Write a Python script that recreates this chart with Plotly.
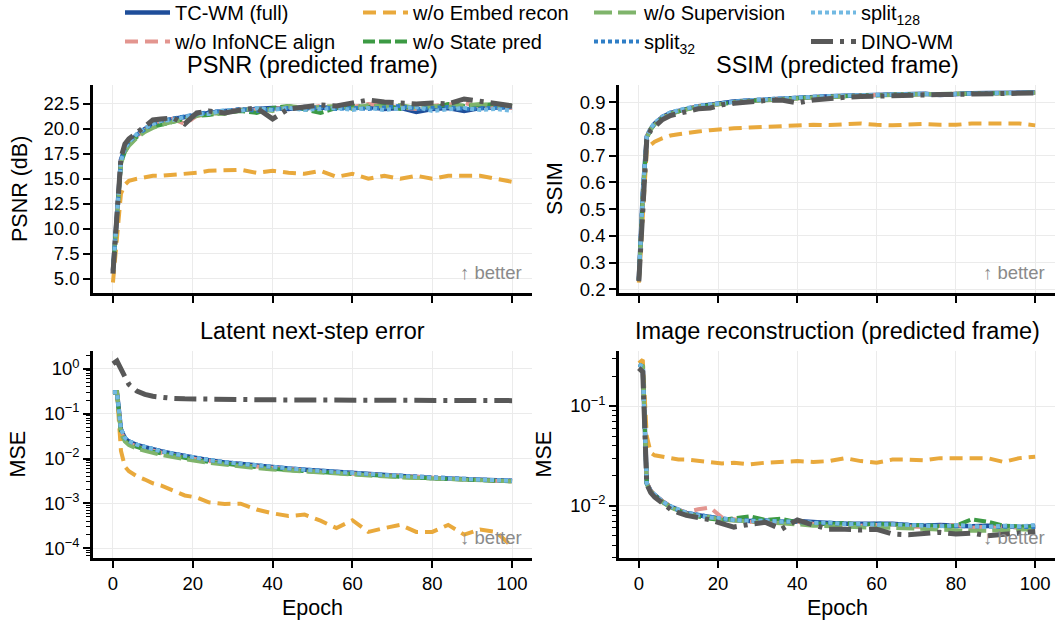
import plotly.graph_objects as go

epochs = [0, 1, 2, 3, 4, 6, 8, 10, 12, 15, 18, 21, 24, 28, 32, 36, 40, 44, 48, 52, 56, 60, 64, 68, 72, 76, 80, 84, 88, 92, 96, 100]

# PSNR (predicted frame), dB
psnr_tcwm = [5.8, 11.6, 16.9, 18.0, 18.6, 19.4, 20.0, 20.4, 20.7, 21.0, 21.2, 21.5, 21.6, 21.8, 21.9, 22.0, 22.1, 22.0, 22.2, 22.1, 22.2, 22.1, 22.2, 22.0, 22.1, 21.7, 22.0, 22.1, 21.8, 22.1, 22.2, 22.2]
psnr_infonce = [5.7, 11.3, 16.7, 17.9, 18.6, 19.3, 19.9, 20.3, 20.6, 21.0, 20.5, 21.3, 21.5, 21.7, 22.0, 21.9, 22.0, 22.2, 22.0, 22.3, 22.1, 22.2, 22.5, 22.3, 22.2, 22.0, 22.3, 22.4, 22.6, 22.2, 22.1, 22.1]
psnr_embed = [4.6, 9.6, 13.5, 14.4, 14.8, 15.0, 15.2, 15.3, 15.3, 15.4, 15.45, 15.6, 15.8, 15.9, 15.9, 15.6, 15.8, 15.6, 15.5, 15.8, 15.2, 15.5, 15.0, 15.3, 15.0, 15.3, 15.0, 15.3, 15.3, 15.3, 15.0, 14.7]
psnr_state = [5.8, 11.4, 16.6, 17.7, 18.4, 19.2, 19.8, 20.2, 20.4, 20.6, 20.9, 21.3, 21.4, 21.6, 21.8, 21.6, 22.1, 22.3, 22.0, 21.6, 22.1, 22.3, 22.2, 22.4, 22.0, 22.3, 22.1, 22.5, 22.3, 22.4, 22.5, 22.3]
psnr_superv = [5.7, 11.2, 16.5, 17.7, 18.3, 19.1, 19.7, 20.1, 20.4, 20.7, 21.0, 21.2, 21.6, 21.5, 21.9, 22.0, 21.8, 22.3, 22.1, 22.2, 22.3, 22.0, 22.4, 22.2, 22.4, 22.1, 22.3, 22.2, 22.4, 22.5, 22.3, 22.4]
psnr_split32 = [5.8, 11.5, 16.8, 18.0, 18.7, 19.4, 20.0, 20.5, 20.8, 21.0, 21.3, 21.4, 21.7, 21.8, 22.0, 21.8, 22.0, 22.1, 22.0, 22.2, 22.0, 22.1, 22.0, 22.1, 22.3, 22.0, 22.1, 22.2, 22.0, 22.0, 22.1, 22.2]
psnr_split128 = [5.7, 11.4, 16.8, 18.1, 18.7, 19.5, 20.1, 20.5, 20.8, 20.9, 21.2, 21.5, 21.5, 21.9, 21.8, 22.1, 21.9, 22.1, 21.9, 22.0, 22.1, 21.9, 22.1, 21.9, 22.0, 22.2, 21.8, 22.0, 22.1, 21.9, 22.0, 21.8]
psnr_dino = [5.5, 11.0, 17.1, 18.5, 19.0, 19.6, 20.3, 20.9, 21.0, 21.1, 20.5, 21.6, 21.8, 21.6, 21.9, 22.1, 21.0, 22.0, 22.2, 22.4, 22.3, 22.6, 22.9, 22.7, 22.6, 22.5, 22.6, 22.5, 23.0, 22.8, 22.6, 22.3]

# SSIM (predicted frame)
ssim_tcwm = [0.235, 0.56, 0.77, 0.80, 0.82, 0.845, 0.86, 0.868, 0.875, 0.885, 0.890, 0.897, 0.902, 0.906, 0.910, 0.913, 0.917, 0.919, 0.922, 0.924, 0.926, 0.927, 0.929, 0.930, 0.931, 0.927, 0.932, 0.933, 0.934, 0.934, 0.935, 0.936]
ssim_infonce = [0.235, 0.55, 0.77, 0.80, 0.818, 0.843, 0.858, 0.867, 0.874, 0.884, 0.889, 0.896, 0.901, 0.905, 0.909, 0.912, 0.915, 0.918, 0.921, 0.923, 0.925, 0.927, 0.928, 0.929, 0.930, 0.930, 0.931, 0.932, 0.933, 0.934, 0.934, 0.935]
ssim_embed = [0.225, 0.50, 0.72, 0.74, 0.752, 0.765, 0.775, 0.780, 0.785, 0.790, 0.795, 0.800, 0.802, 0.805, 0.808, 0.810, 0.812, 0.815, 0.814, 0.818, 0.820, 0.815, 0.813, 0.816, 0.818, 0.815, 0.815, 0.820, 0.821, 0.822, 0.820, 0.813]
ssim_state = [0.235, 0.55, 0.765, 0.80, 0.817, 0.842, 0.857, 0.866, 0.873, 0.883, 0.888, 0.895, 0.900, 0.905, 0.908, 0.912, 0.915, 0.918, 0.920, 0.923, 0.925, 0.926, 0.928, 0.929, 0.930, 0.930, 0.931, 0.932, 0.933, 0.933, 0.934, 0.935]
ssim_superv = [0.235, 0.55, 0.765, 0.798, 0.816, 0.841, 0.856, 0.865, 0.872, 0.882, 0.888, 0.894, 0.900, 0.904, 0.908, 0.911, 0.914, 0.917, 0.920, 0.922, 0.924, 0.926, 0.927, 0.929, 0.930, 0.930, 0.931, 0.932, 0.932, 0.933, 0.934, 0.935]
ssim_split32 = [0.235, 0.56, 0.772, 0.802, 0.821, 0.846, 0.861, 0.869, 0.876, 0.886, 0.891, 0.898, 0.903, 0.907, 0.911, 0.914, 0.918, 0.920, 0.922, 0.924, 0.926, 0.928, 0.929, 0.930, 0.931, 0.929, 0.932, 0.933, 0.933, 0.934, 0.935, 0.936]
ssim_split128 = [0.235, 0.56, 0.772, 0.803, 0.822, 0.846, 0.862, 0.870, 0.877, 0.886, 0.891, 0.898, 0.903, 0.907, 0.911, 0.914, 0.918, 0.920, 0.922, 0.925, 0.926, 0.928, 0.929, 0.930, 0.931, 0.930, 0.932, 0.932, 0.933, 0.934, 0.934, 0.935]
ssim_dino = [0.23, 0.53, 0.76, 0.795, 0.81, 0.835, 0.85, 0.858, 0.866, 0.875, 0.878, 0.890, 0.896, 0.902, 0.906, 0.908, 0.897, 0.908, 0.914, 0.918, 0.921, 0.923, 0.926, 0.927, 0.927, 0.928, 0.929, 0.930, 0.931, 0.931, 0.932, 0.934]

# Latent next-step error (MSE)
lat_tcwm = [0.30, 0.30, 0.045, 0.028, 0.024, 0.020, 0.018, 0.0158, 0.0145, 0.0128, 0.0113, 0.0102, 0.0092, 0.0082, 0.0075, 0.0069, 0.0064, 0.0060, 0.0056, 0.0053, 0.0050, 0.0047, 0.0045, 0.0042, 0.0040, 0.0039, 0.0037, 0.0036, 0.0035, 0.0034, 0.0033, 0.0032]
lat_infonce = [0.30, 0.30, 0.040, 0.026, 0.022, 0.0185, 0.0165, 0.0148, 0.0135, 0.0118, 0.0105, 0.0095, 0.0087, 0.0078, 0.0071, 0.0066, 0.0061, 0.0057, 0.0054, 0.0051, 0.0048, 0.0046, 0.0044, 0.0041, 0.0039, 0.0038, 0.0036, 0.0035, 0.0034, 0.0033, 0.0032, 0.0031]
lat_embed = [0.30, 0.30, 0.015, 0.0066, 0.0052, 0.0040, 0.0034, 0.0028, 0.0025, 0.0019, 0.0015, 0.00135, 0.00105, 0.00097, 0.00098, 0.00073, 0.00060, 0.00052, 0.00056, 0.00041, 0.00028, 0.00042, 0.00023, 0.00028, 0.00033, 0.00023, 0.00023, 0.00033, 0.00020, 0.00026, 0.00023, 0.000108]
lat_state = [0.30, 0.30, 0.038, 0.025, 0.021, 0.0178, 0.0158, 0.0142, 0.0130, 0.0114, 0.0101, 0.0092, 0.0084, 0.0076, 0.0069, 0.0064, 0.0059, 0.0055, 0.0052, 0.0049, 0.0047, 0.0045, 0.0043, 0.0041, 0.0039, 0.0037, 0.0036, 0.0035, 0.0034, 0.0033, 0.0032, 0.0031]
lat_superv = [0.30, 0.30, 0.035, 0.024, 0.020, 0.0165, 0.0148, 0.0133, 0.0122, 0.0108, 0.0096, 0.0088, 0.0080, 0.0072, 0.0066, 0.0061, 0.0057, 0.0054, 0.0051, 0.0048, 0.0046, 0.0044, 0.0042, 0.0040, 0.0038, 0.0037, 0.0036, 0.0035, 0.0034, 0.0033, 0.0032, 0.0031]
lat_split32 = [0.30, 0.30, 0.046, 0.029, 0.0245, 0.0205, 0.0183, 0.0160, 0.0147, 0.0129, 0.0114, 0.0103, 0.0093, 0.0083, 0.0076, 0.0070, 0.0065, 0.0060, 0.0057, 0.0053, 0.0050, 0.0048, 0.0045, 0.0043, 0.0041, 0.0039, 0.0037, 0.0036, 0.0035, 0.0034, 0.0033, 0.0032]
lat_split128 = [0.30, 0.30, 0.046, 0.029, 0.0245, 0.0205, 0.0182, 0.0160, 0.0146, 0.0129, 0.0114, 0.0103, 0.0093, 0.0083, 0.0076, 0.0070, 0.0065, 0.0060, 0.0056, 0.0053, 0.0050, 0.0047, 0.0045, 0.0043, 0.0041, 0.0039, 0.0037, 0.0036, 0.0035, 0.0034, 0.0033, 0.0032]
lat_dino = [1.30, 1.50, 1.00, 0.65, 0.45, 0.32, 0.27, 0.245, 0.23, 0.22, 0.215, 0.212, 0.21, 0.208, 0.206, 0.205, 0.204, 0.203, 0.202, 0.202, 0.201, 0.200, 0.200, 0.199, 0.199, 0.199, 0.198, 0.198, 0.198, 0.197, 0.197, 0.196]

# Image reconstruction (predicted frame), MSE
img_tcwm = [0.26, 0.25, 0.0168, 0.0140, 0.0128, 0.0110, 0.0098, 0.0090, 0.0084, 0.0080, 0.0076, 0.0074, 0.0072, 0.0070, 0.0071, 0.0069, 0.0070, 0.0068, 0.0067, 0.0066, 0.0066, 0.0065, 0.0066, 0.0064, 0.0063, 0.0064, 0.0063, 0.0062, 0.0063, 0.0062, 0.0061, 0.0062]
img_infonce = [0.26, 0.25, 0.0170, 0.0142, 0.0129, 0.0111, 0.0099, 0.0090, 0.0086, 0.0092, 0.0096, 0.0076, 0.0073, 0.0069, 0.0068, 0.0068, 0.0069, 0.0066, 0.0064, 0.0065, 0.0063, 0.0064, 0.0065, 0.0062, 0.0061, 0.0063, 0.0064, 0.0060, 0.0062, 0.0063, 0.0060, 0.0061]
img_embed = [0.27, 0.29, 0.050, 0.034, 0.032, 0.031, 0.030, 0.029, 0.029, 0.028, 0.027, 0.0265, 0.027, 0.026, 0.027, 0.0275, 0.028, 0.0275, 0.028, 0.030, 0.028, 0.027, 0.029, 0.029, 0.0285, 0.030, 0.030, 0.030, 0.030, 0.0275, 0.030, 0.031]
img_state = [0.26, 0.25, 0.0166, 0.0139, 0.0127, 0.0109, 0.0097, 0.0089, 0.0083, 0.0078, 0.0074, 0.0072, 0.0075, 0.0078, 0.0072, 0.0074, 0.0068, 0.0066, 0.0065, 0.0067, 0.0064, 0.0066, 0.0064, 0.0063, 0.0064, 0.0062, 0.0063, 0.0073, 0.0069, 0.0063, 0.0062, 0.0061]
img_superv = [0.26, 0.25, 0.0165, 0.0138, 0.0126, 0.0108, 0.0096, 0.0088, 0.0082, 0.0079, 0.0077, 0.0072, 0.0071, 0.0069, 0.0067, 0.0066, 0.0065, 0.0063, 0.0062, 0.0062, 0.0061, 0.0060, 0.0060, 0.0059, 0.0058, 0.0058, 0.0057, 0.0056, 0.0056, 0.0057, 0.0058, 0.0057]
img_split32 = [0.26, 0.25, 0.0168, 0.0140, 0.0128, 0.0110, 0.0098, 0.0090, 0.0085, 0.0081, 0.0077, 0.0074, 0.0072, 0.0071, 0.0070, 0.0070, 0.0069, 0.0067, 0.0067, 0.0066, 0.0065, 0.0066, 0.0065, 0.0064, 0.0063, 0.0063, 0.0062, 0.0062, 0.0062, 0.0061, 0.0062, 0.0061]
img_split128 = [0.26, 0.25, 0.0169, 0.0141, 0.0128, 0.0110, 0.0099, 0.0091, 0.0085, 0.0080, 0.0076, 0.0075, 0.0072, 0.0070, 0.0071, 0.0069, 0.0070, 0.0067, 0.0068, 0.0065, 0.0066, 0.0064, 0.0065, 0.0064, 0.0063, 0.0062, 0.0064, 0.0062, 0.0061, 0.0063, 0.0062, 0.0064]
img_dino = [0.24, 0.22, 0.0165, 0.0135, 0.0122, 0.0105, 0.0092, 0.0085, 0.0080, 0.0076, 0.0072, 0.0066, 0.0061, 0.0065, 0.0068, 0.0058, 0.0072, 0.0064, 0.0058, 0.0058, 0.0057, 0.0058, 0.0052, 0.0051, 0.0053, 0.0054, 0.0052, 0.0053, 0.0050, 0.0052, 0.0054, 0.0055]

series_names = ["TC-WM (full)", "w/o InfoNCE align", "w/o Embed recon", "w/o State pred",
                "w/o Supervision", "split<sub>32</sub>", "split<sub>128</sub>", "DINO-WM"]

psnr = [psnr_tcwm, psnr_infonce, psnr_embed, psnr_state, psnr_superv, psnr_split32, psnr_split128, psnr_dino]
ssim = [ssim_tcwm, ssim_infonce, ssim_embed, ssim_state, ssim_superv, ssim_split32, ssim_split128, ssim_dino]
lat = [lat_tcwm, lat_infonce, lat_embed, lat_state, lat_superv, lat_split32, lat_split128, lat_dino]
img = [img_tcwm, img_infonce, img_embed, img_state, img_superv, img_split32, img_split128, img_dino]

styles = [
    dict(color="#1f4e9a", width=4.5, dash="solid"),
    dict(color="#e3958f", width=4, dash="13px,7px"),
    dict(color="#e9a93c", width=4, dash="13px,7px"),
    dict(color="#3c9a44", width=4, dash="12px,4px"),
    dict(color="#7fb46b", width=4, dash="18px,6px"),
    dict(color="#2f7ec6", width=4, dash="4px,3px"),
    dict(color="#72b9e2", width=4, dash="4px,3px"),
    dict(color="#585858", width=5, dash="22px,7px,4px,7px"),
]
legend_of = ["legend", "legend", "legend2", "legend2", "legend3", "legend3", "legend4", "legend4"]

FONT = "Liberation Sans, Arial, sans-serif"

fig = go.Figure()
panels = [(psnr, "x", "y"), (ssim, "x2", "y2"), (lat, "x3", "y3"), (img, "x4", "y4")]
for p, (data, xa, ya) in enumerate(panels):
    for i, vals in enumerate(data):
        fig.add_trace(go.Scatter(x=epochs, y=vals, mode="lines", name=series_names[i],
                                 line=styles[i], xaxis=xa, yaxis=ya,
                                 legend=legend_of[i], showlegend=(p == 0)))

xl = [93 / 1055, 532 / 1055]
xr = [619 / 1055, 1.0]
yt = [1 - 293 / 623, 1 - 85 / 623]
yb = [1 - 558 / 623, 1 - 351 / 623]

axis_common = dict(showline=True, linecolor="black", linewidth=2.5, ticks="outside", ticklen=7,
                   tickwidth=2, tickcolor="black", showgrid=True, gridcolor="#ebebeb", gridwidth=1,
                   zeroline=False, automargin=False, tickfont=dict(size=18.5, color="black", family=FONT))
xcommon = dict(axis_common, range=[-5, 105], tick0=0, dtick=20)
minor_log = dict(ticks="outside", ticklen=4, tickwidth=1.2, tickcolor="black", dtick="D1", showgrid=False)

lat_tickvals = [1e-4, 1e-3, 1e-2, 1e-1, 1]
lat_ticktext = ["10<sup>\u22124</sup>", "10<sup>\u22123</sup>", "10<sup>\u22122</sup>", "10<sup>\u22121</sup>", "10<sup>0</sup>"]
img_tickvals = [1e-2, 1e-1]
img_ticktext = ["10<sup>\u22122</sup>", "10<sup>\u22121</sup>"]

fig.update_layout(
    width=1055, height=623, margin=dict(l=0, r=0, t=0, b=0, autoexpand=False),
    paper_bgcolor="white", plot_bgcolor="white",
    font=dict(family=FONT, color="black"),
    xaxis=dict(xcommon, domain=xl, anchor="y", showticklabels=False),
    yaxis=dict(axis_common, domain=yt, anchor="x", range=[3.55, 24.4], tick0=0, dtick=2.5, tickformat=".1f"),
    xaxis2=dict(xcommon, domain=xr, anchor="y2", showticklabels=False),
    yaxis2=dict(axis_common, domain=yt, anchor="x2", range=[0.186, 0.964], tick0=0, dtick=0.1, tickformat=".1f"),
    xaxis3=dict(xcommon, domain=xl, anchor="y3"),
    yaxis3=dict(axis_common, domain=yb, anchor="x3", type="log", range=[-4.22, 0.40],
                tickmode="array", tickvals=lat_tickvals, ticktext=lat_ticktext, minor=minor_log),
    xaxis4=dict(xcommon, domain=xr, anchor="y4"),
    yaxis4=dict(axis_common, domain=yb, anchor="x4", type="log", range=[-2.525, -0.448],
                tickmode="array", tickvals=img_tickvals, ticktext=img_ticktext, minor=minor_log),
)

leg_common = dict(orientation="v", y=1 + 7 / 623, yanchor="top", xanchor="left", bgcolor="rgba(0,0,0,0)",
                  font=dict(size=20, family=FONT, color="black"), itemwidth=45, tracegroupgap=0,
                  traceorder="normal")
fig.update_layout(
    legend=dict(leg_common, x=120 / 1055),
    legend2=dict(leg_common, x=358 / 1055),
    legend3=dict(leg_common, x=589 / 1055),
    legend4=dict(leg_common, x=806 / 1055),
)

ann = []
titles = [("PSNR (predicted frame)", "x domain", "y domain"),
          ("SSIM (predicted frame)", "x2 domain", "y2 domain"),
          ("Latent next-step error", "x3 domain", "y3 domain"),
          ("Image reconstruction (predicted frame)", "x4 domain", "y4 domain")]
for t, xr_, yr_ in titles:
    ann.append(dict(text=t, xref=xr_, yref=yr_, x=0.5, y=1.0, yshift=5, xanchor="center", yanchor="bottom",
                    showarrow=False, font=dict(size=23.5, family=FONT, color="black")))

ytitles = [("PSNR (dB)", 20, (85 + 293) / 2), ("SSIM", 555, (85 + 293) / 2),
           ("MSE", 17, (351 + 558) / 2), ("MSE", 543, (351 + 558) / 2)]
for t, px, py in ytitles:
    ann.append(dict(text=t, xref="paper", yref="paper", x=px / 1055, y=1 - py / 623, textangle=-90,
                    xanchor="center", yanchor="middle", showarrow=False,
                    font=dict(size=21.5, family=FONT, color="black")))
for px in [(93 + 532) / 2, (619 + 1055) / 2]:
    ann.append(dict(text="Epoch", xref="paper", yref="paper", x=px / 1055, y=1 - 608 / 623,
                    xanchor="center", yanchor="middle", showarrow=False,
                    font=dict(size=21.5, family=FONT, color="black")))

better = [("\u2191 better", "x domain", "y domain"), ("\u2191 better", "x2 domain", "y2 domain"),
          ("\u2193 better", "x3 domain", "y3 domain"), ("\u2193 better", "x4 domain", "y4 domain")]
for t, xr_, yr_ in better:
    ann.append(dict(text=t, xref=xr_, yref=yr_, x=0.982, y=0.1, xanchor="right", yanchor="middle",
                    showarrow=False, font=dict(size=18.5, family=FONT, color="#8a8a8a")))
fig.update_layout(annotations=ann)

fig.write_html("out.html", config={"displayModeBar": False},
               post_script="document.body.style.margin='0';")
